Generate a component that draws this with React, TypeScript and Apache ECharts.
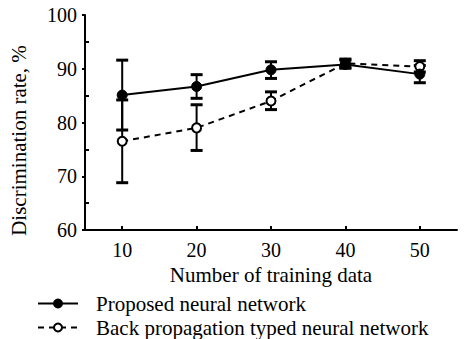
import React, { useEffect, useRef } from "react";
import * as echarts from "echarts";

const xValues = [10, 20, 30, 40, 50];
const proposedMean = [85.1, 86.7, 89.8, 90.8, 89.0];
const proposedLow = [78.6, 84.5, 88.2, 90.1, 87.4];
const proposedHigh = [91.6, 88.9, 91.3, 91.6, 90.6];
const bpMean = [76.5, 79.0, 84.0, 91.0, 90.4];
const bpLow = [68.8, 74.8, 82.4, 90.2, 89.4];
const bpHigh = [84.2, 83.3, 85.7, 91.8, 91.5];
const xTicks = [10, 20, 30, 40, 50];
const seriesNames = ["Proposed neural network", "Back propagation typed neural network"];

const FONT = "Liberation Serif";

function errorSeries(low: number[], high: number[]) {
  return {
    type: "custom",
    silent: true,
    z: 3,
    data: xValues.map((x, i) => [x, low[i], high[i]]),
    renderItem: (params: any, api: any) => {
      const x = api.value(0);
      const lo = api.coord([x, api.value(1)]);
      const hi = api.coord([x, api.value(2)]);
      const hw = 6;
      return {
        type: "group",
        children: [
          { type: "line", shape: { x1: lo[0], y1: lo[1], x2: hi[0], y2: hi[1] }, style: { stroke: "#000", lineWidth: 2 } },
          { type: "line", shape: { x1: lo[0] - hw, y1: lo[1], x2: lo[0] + hw, y2: lo[1] }, style: { stroke: "#000", lineWidth: 3 } },
          { type: "line", shape: { x1: hi[0] - hw, y1: hi[1], x2: hi[0] + hw, y2: hi[1] }, style: { stroke: "#000", lineWidth: 3 } },
        ],
      };
    },
  };
}

function legendFor(name: string, top: number) {
  return {
    left: 37,
    top,
    padding: 0,
    itemWidth: 40,
    itemHeight: 10,
    data: [name],
    textStyle: { fontFamily: FONT, fontSize: 21, color: "#000", padding: [0, 0, 0, 13] },
  };
}

export default function App() {
  const ref = useRef<HTMLDivElement>(null);
  useEffect(() => {
    const chart = echarts.init(ref.current!, null, { renderer: "svg" });
    chart.setOption({
      animation: false,
      backgroundColor: "#fff",
      textStyle: { fontFamily: FONT, color: "#000" },
      grid: { left: 81, right: 9, top: 15, bottom: 109 },
      legend: [legendFor(seriesNames[0], 293), legendFor(seriesNames[1], 317)],
      xAxis: {
        type: "value",
        min: 5,
        max: 55,
        interval: 5,
        name: "Number of training data",
        nameLocation: "middle",
        nameGap: 33,
        nameTextStyle: { fontFamily: FONT, fontSize: 21, color: "#000" },
        axisLine: { lineStyle: { color: "#000", width: 2 } },
        axisTick: { inside: true, length: 4, customValues: xTicks, lineStyle: { color: "#000", width: 2 } },
        axisLabel: { customValues: xTicks, fontFamily: FONT, fontSize: 20, color: "#000", margin: 10 },
        splitLine: { show: false },
      },
      yAxis: {
        type: "value",
        min: 60,
        max: 100,
        interval: 10,
        name: "Discrimination rate, %",
        nameLocation: "middle",
        nameGap: 56,
        nameTextStyle: { fontFamily: FONT, fontSize: 21, color: "#000", padding: [0, 36, 0, 0] },
        axisLine: { show: true, lineStyle: { color: "#000", width: 2 } },
        axisTick: { show: true, length: 3, lineStyle: { color: "#000", width: 2 } },
        minorTick: { show: true, splitNumber: 2, length: -4, lineStyle: { color: "#000", width: 2 } },
        axisLabel: { fontFamily: FONT, fontSize: 20, color: "#000", margin: 8 },
        splitLine: { show: false },
      },
      series: [
        errorSeries(proposedLow, proposedHigh),
        errorSeries(bpLow, bpHigh),
        {
          name: seriesNames[1],
          type: "line",
          z: 4,
          data: xValues.map((x, i) => [x, bpMean[i]]),
          symbol: "circle",
          symbolSize: 9,
          lineStyle: { color: "#000", width: 2, type: [6, 5] },
          itemStyle: { color: "#fff", borderColor: "#000", borderWidth: 2 },
        },
        {
          name: seriesNames[0],
          type: "line",
          z: 5,
          data: xValues.map((x, i) => [x, proposedMean[i]]),
          symbol: "circle",
          symbolSize: 10,
          lineStyle: { color: "#000", width: 2 },
          itemStyle: { color: "#000", borderColor: "#000", borderWidth: 1 },
        },
      ],
    });
    return () => chart.dispose();
  }, []);
  return <div ref={ref} style={{ width: 466, height: 339, position: "absolute", left: 0, top: 0 }} />;
}
